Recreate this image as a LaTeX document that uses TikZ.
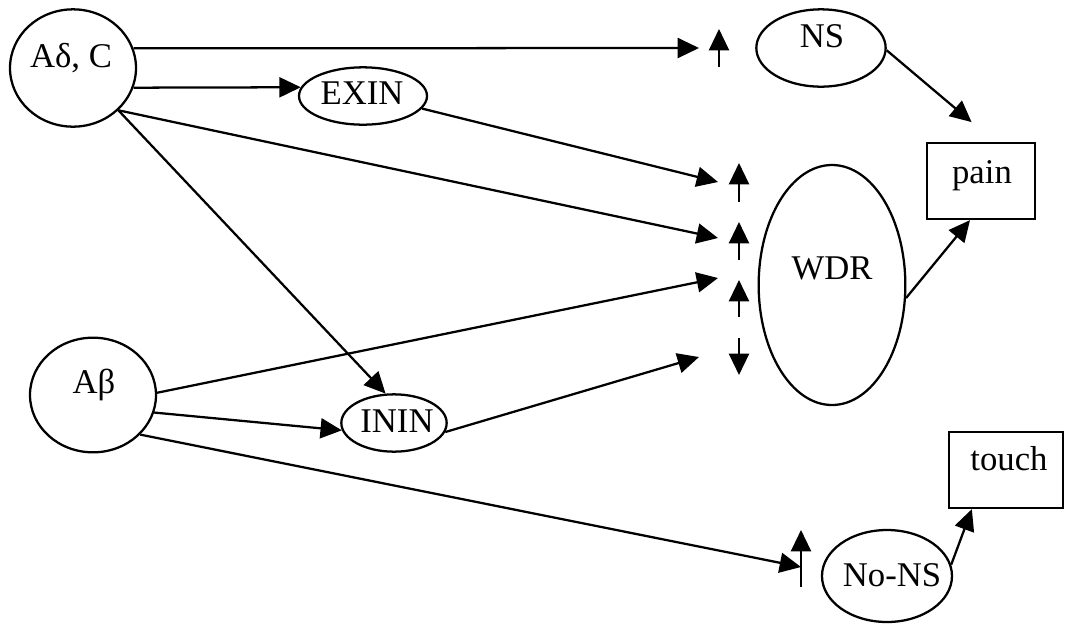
\documentclass[tikz,border=0pt]{standalone}
\usepackage{fontspec}
\setmainfont{Liberation Serif}
\usetikzlibrary{arrows.meta,shapes.geometric,calc}

\begin{document}
\begin{tikzpicture}[x=0.75pt,y=-0.75pt,
  line width=1.7pt,
  oval/.style={draw,ellipse,inner sep=0pt},
  box/.style={draw,rectangle,inner sep=0pt},
  txt/.style={anchor=base,inner sep=0pt,font=\fontsize{26}{30}\selectfont},
  arr/.style={-{Triangle[length=16pt,width=15pt]}},
  sign/.style={-{Triangle[length=16pt,width=15pt]}}]
\useasboundingbox (0,0) rectangle (1072,626);

% fibres, interneurons and projection neurons
\node[oval,minimum width=94.5pt,minimum height=88pt] (adc)  at (73,68)   {};
\node[oval,minimum width=94.5pt,minimum height=86pt] (ab)   at (93,395)  {};
\node[oval,minimum width=96pt,minimum height=43pt]   (exin) at (363,96)  {};
\node[oval,minimum width=79pt,minimum height=43pt]   (inin) at (394,423) {};
\node[oval,minimum width=97pt,minimum height=58pt]   (ns)   at (821,48)  {};
\node[oval,minimum width=110pt,minimum height=180pt] (wdr)  at (832,285) {};
\node[oval,minimum width=97.5pt,minimum height=69pt] (nons) at (887,576) {};
\node[box,minimum width=81pt,minimum height=57pt]    (pain) at (981,181) {};
\node[box,minimum width=85.5pt,minimum height=57pt]  (touch) at (1006,470) {};

% labels
\node[txt] (adct)   at (71,67)   {Aδ, C};
\node[txt] (abt)    at (94,393)  {Aβ};
\node[txt] (exint)  at (362,104) {EXIN};
\node[txt] (inint)  at (397,432) {ININ};
\node[txt] (nst)    at (822,47)  {NS};
\node[txt] (wdrt)   at (832,279) {WDR};
\node[txt] (paint)  at (982,183) {pain};
\node[txt] (toucht) at (1009,470) {touch};
\node[txt] (nonst)  at (892,586) {No-NS};

% up/down signs next to the target neurons
\coordinate (s0a) at (719,67);  \coordinate (s0b) at (719,29);
\coordinate (s1a) at (739,202); \coordinate (s1b) at (739,163);
\coordinate (s2a) at (739,260); \coordinate (s2b) at (739,222);
\coordinate (s3a) at (739,317); \coordinate (s3b) at (739,280);
\coordinate (s4a) at (739,338); \coordinate (s4b) at (739,375);
\coordinate (s5a) at (801,587); \coordinate (s5b) at (801,530);
\foreach \i in {0,...,5} \draw[sign] (s\i a) -- (s\i b);

% arrow ends in front of the signs
\coordinate (e0) at (699,48);
\coordinate (e1) at (718,182);
\coordinate (e2) at (718,238);
\coordinate (e3) at (718,278);
\coordinate (e4) at (699,357);
\coordinate (e5) at (801,567);

% connections
\draw[arr] (adc.18)  -- (e0);
\draw[arr] (adc.-18) -- (exin.172);
\draw[arr] (adc.-43) -- (e2);
\draw[arr] (adc.-43) -- (inin.106);
\draw[arr] (exin.-12) -- (e1);
\draw[arr] (ab.2)    -- (e3);
\draw[arr] (ab.-16)  -- (inin.188);
\draw[arr] (ab.-40)  -- (e5);
\draw[arr] (inin.-10) -- (e4);
\draw[arr,shorten >=23pt] (ns.-2) -- ($(pain.north)+(14,0)$);
\draw[arr] (wdr.-10) -- ($(pain.south)+(-11,0)$);
\draw[arr] (nons.10) -- ($(touch.south west)+(24,0)$);
\end{tikzpicture}
\end{document}
